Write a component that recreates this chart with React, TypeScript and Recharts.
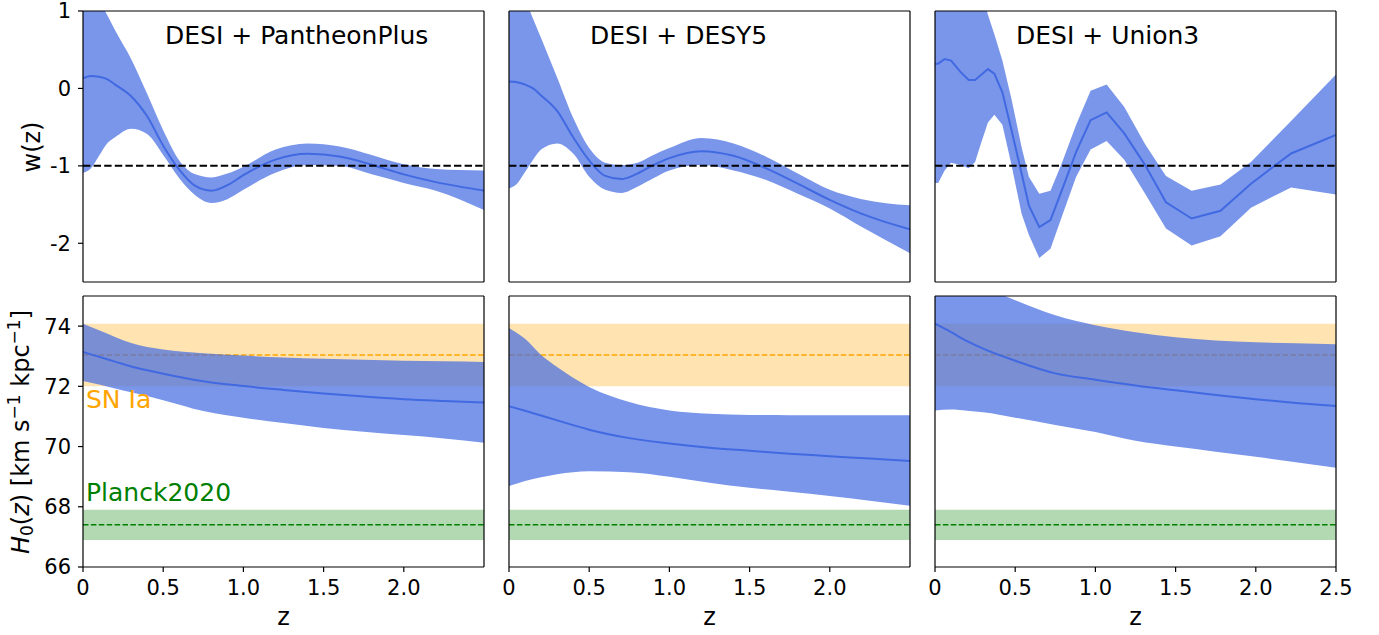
import React from 'react';
import { ComposedChart, Area, Line, XAxis, YAxis, ReferenceLine } from 'recharts';

const FONT = '"DejaVu Sans", sans-serif';
const BLUE = '#4169E1';
const ORANGE = '#FFA500';
const GREEN = '#008000';

// ---------- w(z) panels ----------
const zPP = [0, 0.05, 0.1, 0.15, 0.2, 0.3, 0.4, 0.5, 0.6, 0.7, 0.8, 0.9, 1.0, 1.2, 1.4, 1.6, 1.8, 2.0, 2.2, 2.5];
const wMeanPP = [0.13, 0.16, 0.15, 0.12, 0.05, -0.1, -0.36, -0.74, -1.05, -1.26, -1.32, -1.25, -1.12, -0.92, -0.845, -0.88, -0.985, -1.11, -1.21, -1.32];
const wHiPP = [1.45, 1.3, 1.15, 0.95, 0.75, 0.38, -0.07, -0.54, -0.93, -1.11, -1.15, -1.1, -1.01, -0.79, -0.71, -0.75, -0.86, -0.98, -1.04, -1.06];
const wLoPP = [-1.09, -1.03, -0.87, -0.71, -0.63, -0.52, -0.59, -0.86, -1.16, -1.38, -1.48, -1.43, -1.31, -1.09, -0.99, -1.0, -1.11, -1.22, -1.32, -1.57];

const zDY = [0, 0.05, 0.1, 0.15, 0.2, 0.3, 0.4, 0.5, 0.6, 0.7, 0.8, 0.9, 1.0, 1.2, 1.4, 1.6, 1.8, 2.0, 2.2, 2.5];
const wMeanDY = [0.09, 0.08, 0.05, 0.0, -0.09, -0.29, -0.63, -0.93, -1.13, -1.17, -1.1, -0.99, -0.9, -0.81, -0.87, -1.03, -1.23, -1.44, -1.62, -1.82];
const wHiDY = [1.67, 1.41, 1.16, 0.9, 0.65, 0.14, -0.38, -0.77, -0.96, -0.99, -0.96, -0.86, -0.77, -0.64, -0.71, -0.88, -1.1, -1.31, -1.43, -1.51];
const wLoDY = [-1.29, -1.23, -1.08, -0.92, -0.79, -0.71, -0.84, -1.14, -1.31, -1.35, -1.27, -1.16, -1.06, -0.99, -1.06, -1.18, -1.36, -1.55, -1.79, -2.13];

const zU3 = [0, 0.02, 0.06, 0.1, 0.16, 0.21, 0.25, 0.29, 0.33, 0.37, 0.42, 0.475, 0.54, 0.585, 0.65, 0.72, 0.79, 0.88, 0.97, 1.07, 1.18, 1.31, 1.44, 1.6, 1.78, 1.97, 2.22, 2.5];
const wMeanU3 = [0.32, 0.32, 0.38, 0.36, 0.21, 0.11, 0.11, 0.18, 0.25, 0.19, -0.05, -0.52, -1.1, -1.51, -1.79, -1.7, -1.32, -0.82, -0.41, -0.31, -0.58, -0.99, -1.47, -1.68, -1.58, -1.23, -0.84, -0.6];
const wHiU3 = [2.0, 2.0, 2.0, 1.95, 1.85, 1.7, 1.55, 1.3, 0.95, 0.7, 0.36, -0.12, -0.76, -1.14, -1.36, -1.32, -0.97, -0.47, -0.03, 0.05, -0.24, -0.72, -1.13, -1.32, -1.24, -0.95, -0.42, 0.18];
const wLoU3 = [-1.22, -1.22, -1.06, -0.96, -0.99, -1.03, -0.95, -0.69, -0.44, -0.34, -0.47, -0.97, -1.62, -1.89, -2.19, -2.07, -1.66, -1.14, -0.79, -0.68, -0.92, -1.36, -1.81, -2.03, -1.91, -1.54, -1.28, -1.37];

const W_LCDM = -1;

// ---------- H0(z) panels ----------
const zH = [0, 0.1, 0.2, 0.3, 0.5, 0.75, 1.0, 1.25, 1.5, 1.75, 2.0, 2.25, 2.5];
const hMeanPP = [73.14, 72.98, 72.82, 72.66, 72.42, 72.17, 72.01, 71.88, 71.76, 71.66, 71.57, 71.51, 71.46];
const hHiPP = [74.08, 73.86, 73.64, 73.44, 73.22, 73.1, 73.02, 72.96, 72.92, 72.88, 72.85, 72.83, 72.81];
const hLoPP = [72.18, 72.06, 71.93, 71.8, 71.54, 71.18, 70.96, 70.78, 70.62, 70.49, 70.38, 70.27, 70.13];

const hMeanDY = [71.34, 71.19, 71.03, 70.87, 70.56, 70.28, 70.1, 69.96, 69.86, 69.76, 69.68, 69.6, 69.52];
const hHiDY = [73.94, 73.58, 73.04, 72.64, 71.98, 71.48, 71.2, 71.09, 71.05, 71.04, 71.04, 71.04, 71.04];
const hLoDY = [68.69, 68.86, 68.98, 69.08, 69.18, 69.15, 69.0, 68.8, 68.63, 68.5, 68.36, 68.2, 68.03];

const hMeanU3 = [74.08, 73.8, 73.5, 73.25, 72.85, 72.43, 72.22, 72.03, 71.87, 71.71, 71.57, 71.45, 71.35];
const hHiU3 = [76.0, 75.8, 75.55, 75.3, 74.86, 74.36, 74.03, 73.8, 73.63, 73.52, 73.46, 73.43, 73.4];
const hLoU3 = [71.2, 71.23, 71.19, 71.14, 70.96, 70.72, 70.48, 70.19, 70.0, 69.83, 69.66, 69.48, 69.3];

const SN_H0 = 73.04;
const SN_ERR = 1.04;
const PLANCK_H0 = 67.4;
const PLANCK_ERR = 0.5;

// ---------- ticks ----------
const xTicksShort = [0, 0.5, 1.0, 1.5, 2.0];
const xTicksFull = [0, 0.5, 1.0, 1.5, 2.0, 2.5];
const wTicks = [-2, -1, 0, 1];
const hTicks = [66, 68, 70, 72, 74];
const titles = ['DESI + PantheonPlus', 'DESI + DESY5', 'DESI + Union3'];

const buildW = (z: number[], m: number[], lo: number[], hi: number[]) =>
  z.map((v, i) => ({ z: v, mean: m[i], band: [lo[i], hi[i]], lcdm: W_LCDM }));
const buildH = (z: number[], m: number[], lo: number[], hi: number[]) =>
  z.map((v, i) => ({
    z: v,
    mean: m[i],
    band: [lo[i], hi[i]],
    sn: [SN_H0 - SN_ERR, SN_H0 + SN_ERR],
    snMid: SN_H0,
    planck: [PLANCK_H0 - PLANCK_ERR, PLANCK_H0 + PLANCK_ERR],
    planckMid: PLANCK_H0,
  }));

const wData = [
  buildW(zPP, wMeanPP, wLoPP, wHiPP),
  buildW(zDY, wMeanDY, wLoDY, wHiDY),
  buildW(zU3, wMeanU3, wLoU3, wHiU3),
];
const hData = [
  buildH(zH, hMeanPP, hLoPP, hHiPP),
  buildH(zH, hMeanDY, hLoDY, hHiDY),
  buildH(zH, hMeanU3, hLoU3, hHiU3),
];

const PLOT_W = 401;
const PLOT_H = 271;
const COL_LEFT = [83, 509, 935];
const ROW_TOP = [11, 296];
const ML = 45, MT = 15, MR = 22, MB = 40;
const X_MAX = 2.5;

const tickStyle = { fill: '#000', fontSize: 21, fontFamily: FONT };
const spine = { stroke: '#000', strokeWidth: 1.2 };
const fmtX = (v: number) => (v === 0 ? '0' : v.toFixed(1));

function Panel({ row, col }: { row: number; col: number }) {
  const isW = row === 0;
  const data = isW ? wData[col] : hData[col];
  const domainY = isW ? [-2.5, 1] : [66, 75];
  const curve = isW && col === 2 ? 'linear' : 'monotone';
  const showYT = col === 0;
  const showXT = row === 1;
  return (
    <div style={{ position: 'absolute', left: COL_LEFT[col] - ML, top: ROW_TOP[row] - MT }}>
      <ComposedChart
        width={ML + PLOT_W + MR}
        height={MT + PLOT_H + MB}
        data={data}
        margin={{ top: MT, right: MR, bottom: 0, left: 0 }}
      >
        <XAxis
          xAxisId="b"
          dataKey="z"
          type="number"
          domain={[0, X_MAX]}
          allowDataOverflow
          ticks={col === 2 ? xTicksFull : xTicksShort}
          interval={0}
          height={MB}
          tickSize={5}
          tickMargin={8}
          tick={showXT ? tickStyle : false}
          tickLine={showXT ? spine : false}
          axisLine={spine}
          tickFormatter={fmtX}
        />
        <YAxis
          yAxisId="l"
          type="number"
          domain={domainY}
          allowDataOverflow
          ticks={isW ? wTicks : hTicks}
          interval={0}
          width={ML}
          tickSize={5}
          tickMargin={7}
          tick={showYT ? tickStyle : false}
          tickLine={showYT ? spine : false}
          axisLine={spine}
          tickFormatter={(v: number) => String(v)}
        />
        {!isW && (
          <Area xAxisId="b" yAxisId="l" dataKey="sn" type="linear" fill={ORANGE} fillOpacity={0.3} stroke="none" isAnimationActive={false} />
        )}
        {!isW && (
          <Area xAxisId="b" yAxisId="l" dataKey="planck" type="linear" fill={GREEN} fillOpacity={0.3} stroke="none" isAnimationActive={false} />
        )}
        {!isW && (
          <Area xAxisId="b" yAxisId="l" dataKey="snMid" type="linear" fill="none" fillOpacity={0} stroke={ORANGE} strokeWidth={1.5} strokeDasharray="5.5 2.4" isAnimationActive={false} />
        )}
        {!isW && (
          <Area xAxisId="b" yAxisId="l" dataKey="planckMid" type="linear" fill="none" fillOpacity={0} stroke={GREEN} strokeWidth={1.5} strokeDasharray="5.5 2.4" isAnimationActive={false} />
        )}
        <Area xAxisId="b" yAxisId="l" dataKey="band" type={curve} fill={BLUE} fillOpacity={0.7} stroke="none" isAnimationActive={false} />
        <Line xAxisId="b" yAxisId="l" dataKey="mean" type={curve} stroke={BLUE} strokeWidth={2} dot={false} isAnimationActive={false} />
        {isW && (
          <Line xAxisId="b" yAxisId="l" dataKey="lcdm" type="linear" stroke="#000" strokeWidth={2} strokeDasharray="7.4 3.2" dot={false} isAnimationActive={false} />
        )}
        <ReferenceLine xAxisId="b" yAxisId="l" y={domainY[1]} stroke="#000" strokeWidth={1.2} ifOverflow="visible" />
        <ReferenceLine xAxisId="b" yAxisId="l" x={X_MAX} stroke="#000" strokeWidth={1.2} ifOverflow="visible" />
      </ComposedChart>
    </div>
  );
}

export default function App() {
  const xCenters = COL_LEFT.map((l) => l + PLOT_W / 2);
  return (
    <div style={{ position: 'absolute', left: 0, top: 0, width: 1379, height: 635, background: '#fff', fontFamily: FONT }}>
      {[0, 1].map((r) => [0, 1, 2].map((c) => <Panel key={`${r}-${c}`} row={r} col={c} />))}
      <svg width={1379} height={635} style={{ position: 'absolute', left: 0, top: 0, pointerEvents: 'none' }} fontFamily={FONT}>
        <text x={165} y={44} fontSize={25} fill="#000">{titles[0]}</text>
        <text x={590} y={44} fontSize={25} fill="#000">{titles[1]}</text>
        <text x={1016} y={44} fontSize={25} fill="#000">{titles[2]}</text>
        <text x={40} y={147} fontSize={24} fill="#000" textAnchor="middle" transform="rotate(-90 40 147)">w(z)</text>
        <text x={29} y={432} fontSize={24} fill="#000" textAnchor="middle" transform="rotate(-90 29 432)">
          <tspan fontStyle="italic">H</tspan>
          <tspan fontSize={17} dy={4}>0</tspan>
          <tspan dy={-4}>(</tspan>
          <tspan fontStyle="italic">z</tspan>
          <tspan>) [km s</tspan>
          <tspan fontSize={17} dy={-9}>−1</tspan>
          <tspan dy={9}> kpc</tspan>
          <tspan fontSize={17} dy={-9}>−1</tspan>
          <tspan dy={9}>]</tspan>
        </text>
        {xCenters.map((x, i) => (
          <text key={i} x={x} y={625} fontSize={24} fill="#000" textAnchor="middle">z</text>
        ))}
        <text x={86} y={408} fontSize={25} fill={ORANGE}>SN Ia</text>
        <text x={86} y={501} fontSize={25} fill={GREEN}>Planck2020</text>
      </svg>
    </div>
  );
}
